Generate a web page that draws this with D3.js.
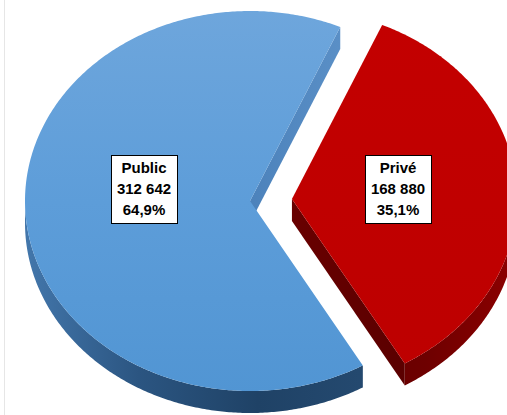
<!DOCTYPE html>
<html><head><meta charset="utf-8">
<script src="https://cdn.jsdelivr.net/npm/d3@7"></script>
<style>html,body{margin:0;padding:0;background:#fff;overflow:hidden}</style>
</head><body>
<svg id="chart" width="507" height="415"></svg>
<script>
const categories = ["Public", "Privé"];
const values = [312642, 168880];
const exploded = [false, true];

const W = 507, H = 415;
const cx = 250, cy = 201, rx = 225, ry = 190, depth = 22, explode = 42;
const startDeg = 149.9;

const svg = d3.select("#chart");
const defs = svg.append("defs");

function lg(id, x1, y1, x2, y2, stops) {
  const g = defs.append("linearGradient").attr("id", id).attr("gradientUnits", "userSpaceOnUse")
    .attr("x1", x1).attr("y1", y1).attr("x2", x2).attr("y2", y2);
  stops.forEach(s => g.append("stop").attr("offset", s[0]).attr("stop-color", s[1]));
}
lg("blueTop", 0, 10, 0, 395, [[0, "#6ea6dc"], [0.5, "#5d9dd9"], [1, "#5195d3"]]);
lg("blueWall", 20, 0, 360, 0, [[0, "#4478ad"], [0.35, "#2b5581"], [0.7, "#1f4266"], [1, "#24496f"]]);
lg("blueFace", 250, 0, 340, 0, [[0, "#4c82bb"], [1, "#5a8fc6"]]);
lg("redTop", 0, 20, 0, 390, [[0, "#c30000"], [1, "#bd0000"]]);
lg("redWall", 300, 0, 510, 0, [[0, "#5a0000"], [0.6, "#6e0000"], [1, "#8a0000"]]);
lg("redFace", 280, 0, 410, 0, [[0, "#6a0000"], [1, "#5a0000"]]);

const styles = [
  { top: "url(#blueTop)", wall: "url(#blueWall)", face: "url(#blueFace)" },
  { top: "url(#redTop)", wall: "url(#redWall)", face: "url(#redFace)" }
];

// left frame line
svg.append("line").attr("x1", 4.5).attr("x2", 4.5).attr("y1", 0).attr("y2", H)
  .attr("stroke", "#e6e6e6").attr("stroke-width", 1);

const pie = d3.pie().sort(null)
  .startAngle(startDeg * Math.PI / 180)
  .endAngle(startDeg * Math.PI / 180 + 2 * Math.PI);
const arcs = pie(values);
const total = d3.sum(values);

function pt(a, r, ox, oy, dz) {
  return [cx + ox + rx * r * Math.sin(a), cy + oy - ry * r * Math.cos(a) + (dz || 0)];
}
function ellPts(a0, a1, ox, oy, dz) {
  const n = Math.max(2, Math.ceil(Math.abs(a1 - a0) / 0.01));
  const out = [];
  for (let i = 0; i <= n; i++) out.push(pt(a0 + (a1 - a0) * i / n, 1, ox, oy, dz));
  return out;
}
const line = d3.line();

arcs.forEach((d, i) => {
  const mid = (d.startAngle + d.endAngle) / 2;
  const e = exploded[i] ? explode : 0;
  const ox = e * Math.sin(mid), oy = -e * Math.cos(mid) * ry / rx;
  d.ox = ox; d.oy = oy; d.mid = mid;
  const g = svg.append("g");
  const st = styles[i];

  // radial end face (visible at end angle)
  const c0 = pt(0, 0, ox, oy), e1 = pt(d.endAngle, 1, ox, oy);
  g.append("path").attr("d", line([c0, e1, [e1[0], e1[1] + depth], [c0[0], c0[1] + depth]]) + "Z")
    .attr("fill", st.face);

  // outer wall (front-facing part)
  for (let k = -1; k <= 2; k++) {
    const lo = Math.max(d.startAngle, Math.PI / 2 + 2 * Math.PI * k);
    const hi = Math.min(d.endAngle, 3 * Math.PI / 2 + 2 * Math.PI * k);
    if (hi > lo) {
      const topP = ellPts(lo, hi, ox, oy, 0);
      const botP = ellPts(hi, lo, ox, oy, depth);
      g.append("path").attr("d", line(topP.concat(botP)) + "Z").attr("fill", st.wall);
    }
  }

  // top face
  const topPts = [c0].concat(ellPts(d.startAngle, d.endAngle, ox, oy, 0));
  g.append("path").attr("d", line(topPts) + "Z").attr("fill", st.top);
});

// labels
const numFmt = d3.formatLocale({ decimal: ",", thousands: " ", grouping: [3], currency: ["", ""] });
const fmtInt = numFmt.format(",d");
const fmtPct = numFmt.format(".1%");

arcs.forEach((d, i) => {
  const k = 0.47;
  const p = pt(d.mid, k, d.ox, d.oy);
  const lx = p[0], ly = cy - 12;
  const lines = [categories[i], fmtInt(values[i]), fmtPct(values[i] / total)];
  const g = svg.append("g").attr("transform", `translate(${Math.round(lx)},${Math.round(ly)})`);
  const bw = 66, bh = 68, lh = 21;
  g.append("rect").attr("x", -bw / 2 + 0.5).attr("y", -bh / 2 + 0.5).attr("width", bw).attr("height", bh)
    .attr("fill", "#fff").attr("stroke", "#000").attr("stroke-width", 1);
  g.selectAll("text").data(lines).join("text")
    .attr("x", 0).attr("y", (t, j) => (j - 1) * lh)
    .attr("dy", "0.36em")
    .attr("text-anchor", "middle")
    .attr("font-family", "Liberation Sans, Arial, sans-serif")
    .attr("font-weight", "bold").attr("font-size", 15).attr("fill", "#000")
    .text(t => t);
});
</script>
</body></html>
